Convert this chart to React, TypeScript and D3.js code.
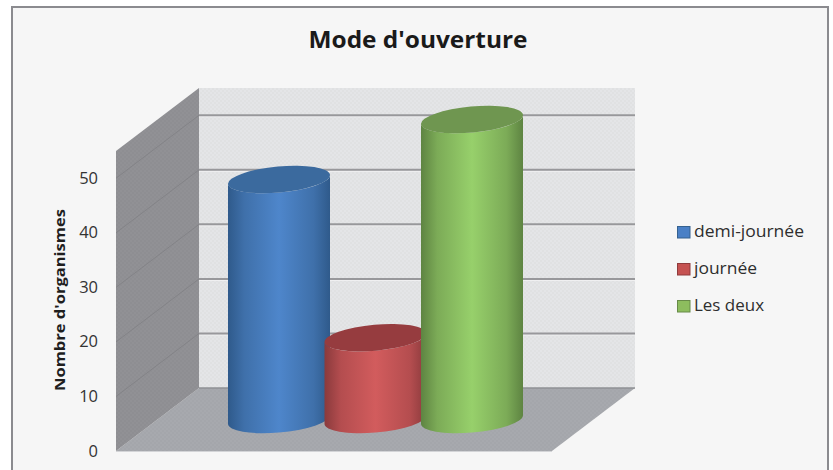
import React from "react";
import * as d3 from "d3";

const chartTitle = "Mode d'ouverture";
const axisTitle = "Nombre d'organismes";
const categories = ["demi-journée", "journée", "Les deux"];
const values = [44, 15, 55];
const tickValues = [0, 10, 20, 30, 40, 50];
const gridValues = [10, 20, 30, 40, 50];
const axisMax = 55;
const legendWidths = [110, 63, 70];

const bodyColors = [
  { edge: "#2f5a8b", mid: "#3f70aa", light: "#4e86cb", top: "#3b6a9e", swatch: "#4a80c6", line: "#35618f" },
  { edge: "#8a3a3c", mid: "#b44d4f", light: "#d25c5d", top: "#963c3f", swatch: "#c55251", line: "#8f3b3c" },
  { edge: "#5e8442", mid: "#7cab57", light: "#97d06b", top: "#6f9650", swatch: "#8dbd5e", line: "#678a48" },
];

const W = 833;
const H = 470;
const plotLeft = 116;
const plotRight = 552;
const depthX = 83;
const depthY = -63;

const y = d3.scaleLinear().domain([0, axisMax]).range([451, 151]);
const xCenter = d3.scalePoint<string>().domain(categories).range([279, 472]);
const legendY = d3.scalePoint<string>().domain(categories).range([226, 300]);

// Tilted ellipse that caps each cylinder.
const rx = 51.2;
const ry = 13;
const tilt = (-5.2 * Math.PI) / 180;
const halfWidth = Math.sqrt(rx * rx * Math.cos(tilt) ** 2 + ry * ry * Math.sin(tilt) ** 2);
const sideDrop = (-(rx * rx - ry * ry) * Math.sin(tilt) * Math.cos(tilt)) / halfWidth;
const tiltDeg = (tilt * 180) / Math.PI;

const midY = (v: number) => y(v) + depthY / 2;
const backY = (v: number) => y(v) + depthY;

const polygon = (pts: [number, number][]) => d3.line()(pts) + "Z";

function cylinderBody(cx: number, v: number) {
  const t = midY(v);
  const b = midY(0);
  const l = cx - halfWidth;
  const r = cx + halfWidth;
  return [
    `M${l},${t + sideDrop}`,
    `L${l},${b + sideDrop}`,
    `A${rx},${ry} ${tiltDeg} 0 0 ${r},${b - sideDrop}`,
    `L${r},${t - sideDrop}`,
    `A${rx},${ry} ${tiltDeg} 0 1 ${l},${t + sideDrop}`,
    "Z",
  ].join(" ");
}

const sans = "'Open Sans', 'Noto Sans', sans-serif";

const backWall = polygon([
  [plotLeft + depthX, backY(axisMax)],
  [plotRight + depthX, backY(axisMax)],
  [plotRight + depthX, backY(0)],
  [plotLeft + depthX, backY(0)],
]);
const floor = polygon([
  [plotLeft, y(0)],
  [plotLeft + depthX, backY(0)],
  [plotRight + depthX, backY(0)],
  [plotRight, y(0)],
]);
const sideWall = polygon([
  [plotLeft, y(axisMax)],
  [plotLeft + depthX, backY(axisMax)],
  [plotLeft + depthX, backY(0)],
  [plotLeft, y(0)],
]);

export default function App() {
  return (
    <svg
      width={W}
      height={H}
      viewBox={`0 0 ${W} ${H}`}
      style={{ position: "absolute", left: 0, top: 0, display: "block" }}
    >
      <defs>
        <pattern id="dots" width="4" height="4" patternUnits="userSpaceOnUse">
          <rect x="0" y="0" width="2" height="2" fill="#000" opacity="0.02" />
          <rect x="2" y="2" width="2" height="2" fill="#000" opacity="0.02" />
        </pattern>
        {bodyColors.map((c, i) => (
          <linearGradient key={i} id={`body${i}`} x1="0" x2="1" y1="0" y2="0">
            <stop offset="0" stopColor={c.edge} />
            <stop offset="0.16" stopColor={c.mid} />
            <stop offset="0.5" stopColor={c.light} />
            <stop offset="0.84" stopColor={c.mid} />
            <stop offset="1" stopColor={c.edge} />
          </linearGradient>
        ))}
      </defs>

      <rect x={12} y={7} width={816} height={H} fill="#f6f6f6" stroke="#8b8b8f" strokeWidth={2} />

      {/* Back wall, floor and side wall of the box */}
      <path d={backWall} fill="#e4e5e7" />
      <path d={backWall} fill="url(#dots)" />
      {gridValues.map((v) => (
        <g key={v}>
          <line
            x1={plotLeft + depthX}
            x2={plotRight + depthX}
            y1={backY(v) + 1.5}
            y2={backY(v) + 1.5}
            stroke="#f1f1f2"
            strokeWidth={1}
          />
          <line
            x1={plotLeft + depthX}
            x2={plotRight + depthX}
            y1={backY(v)}
            y2={backY(v)}
            stroke="#98989b"
            strokeWidth={2}
          />
        </g>
      ))}
      <path d={floor} fill="#a7a9ae" />
      <path d={floor} fill="url(#dots)" />
      <line
        x1={plotLeft + depthX}
        x2={plotRight + depthX}
        y1={backY(0)}
        y2={backY(0)}
        stroke="#8f9095"
        strokeWidth={1.5}
      />
      <line x1={plotLeft} x2={plotRight} y1={y(0) + 0.5} y2={y(0) + 0.5} stroke="#d3d4d7" strokeWidth={1.2} />
      <path d={sideWall} fill="#919195" />
      <path d={sideWall} fill="url(#dots)" />
      {gridValues.map((v) => (
        <line
          key={v}
          x1={plotLeft}
          x2={plotLeft + depthX}
          y1={y(v)}
          y2={backY(v)}
          stroke="#838387"
          strokeWidth={1}
        />
      ))}

      {/* Cylinders, painted left to right so each one overlaps the previous */}
      {categories.map((c, i) => {
        const cx = xCenter(c) as number;
        return (
          <g key={c}>
            <path d={cylinderBody(cx, values[i])} fill={`url(#body${i})`} />
            <ellipse
              cx={cx}
              cy={midY(values[i])}
              rx={rx}
              ry={ry}
              transform={`rotate(${tiltDeg} ${cx} ${midY(values[i])})`}
              fill={bodyColors[i].top}
            />
          </g>
        );
      })}

      <text
        x={418}
        y={48}
        textAnchor="middle"
        fontFamily={sans}
        fontWeight={700}
        fontSize={24}
        fill="#1a1a1a"
        textLength={219}
        lengthAdjust="spacingAndGlyphs"
      >
        {chartTitle}
      </text>

      {tickValues.map((v) => (
        <text
          key={v}
          x={98}
          y={y(v) + 5.5}
          textAnchor="end"
          fontFamily={sans}
          fontSize={16.5}
          fill="#333"
        >
          {v}
        </text>
      ))}

      <text
        transform="translate(65,300) rotate(-90)"
        textAnchor="middle"
        fontFamily={sans}
        fontWeight={700}
        fontSize={14}
        fill="#1e1e1e"
        textLength={182}
        lengthAdjust="spacingAndGlyphs"
      >
        {axisTitle}
      </text>

      {categories.map((c, i) => {
        const top = legendY(c) as number;
        return (
          <g key={c}>
            <rect
              x={677.5}
              y={top + 0.5}
              width={12.5}
              height={11.5}
              fill={bodyColors[i].swatch}
              stroke={bodyColors[i].line}
              strokeWidth={1}
            />
            <text
              x={694}
              y={top + 11}
              fontFamily={sans}
              fontSize={16}
              fill="#2e2e2e"
              textLength={legendWidths[i]}
              lengthAdjust="spacingAndGlyphs"
            >
              {c}
            </text>
          </g>
        );
      })}
    </svg>
  );
}
